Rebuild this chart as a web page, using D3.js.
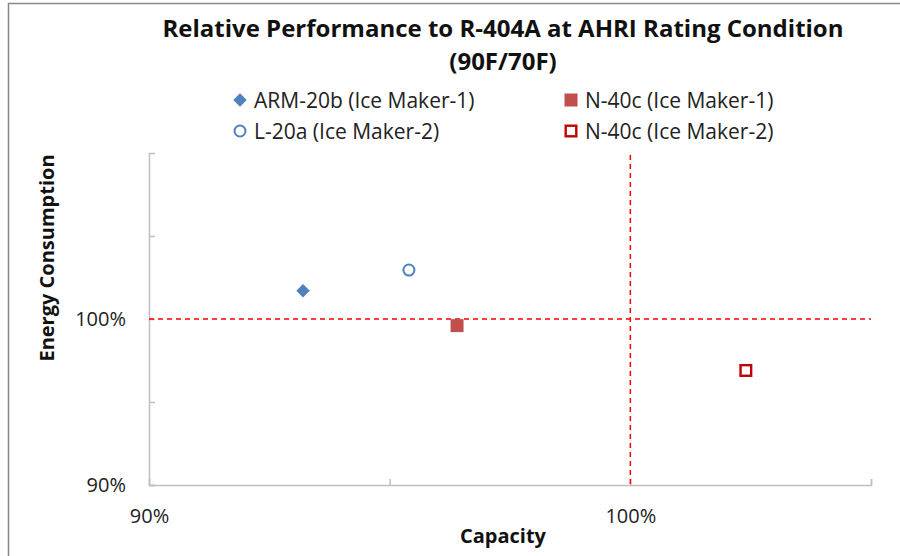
<!DOCTYPE html>
<html>
<head>
<meta charset="utf-8">
<script src="https://cdn.jsdelivr.net/npm/d3@7"></script>
<style>
  body { margin: 0; background: #fff; }
  svg { font-family: "Open Sans", sans-serif; }
</style>
</head>
<body>
<svg id="chart" width="900" height="556"></svg>
<script>
// data
const seriesNames = ["ARM-20b (Ice Maker-1)", "L-20a (Ice Maker-2)", "N-40c (Ice Maker-1)", "N-40c (Ice Maker-2)"];
const capacity = [93.2, 95.4, 96.4, 102.4];   // % of R-404A
const energy = [101.7, 102.95, 99.6, 96.9];   // % of R-404A
const xTicks = [90, 95, 100, 105];
const yTicks = [90, 95, 100, 105, 110];
const labelled = [90, 100];

const svg = d3.select("#chart");

// outer chart border (cut by the window)
svg.append("rect").attr("x", 8.5).attr("y", 3.5).attr("width", 1000).attr("height", 1000)
  .attr("fill", "none").attr("stroke", "#888").attr("stroke-width", 1.5);

const plot = {left: 149, right: 871, top: 153, bottom: 485};

const x = d3.scaleLinear().domain([90, 105]).range([plot.left, plot.right]);
const y = d3.scaleLinear().domain([90, 110]).range([plot.bottom, plot.top]);

// axes
const fmt = d => labelled.includes(d) ? d + "%" : "";

const yAxis = svg.append("g").attr("transform", `translate(${plot.left},0)`)
  .call(d3.axisLeft(y).tickValues(yTicks).tickSize(-6).tickPadding(23).tickFormat(fmt));
const xAxis = svg.append("g").attr("transform", `translate(0,${plot.bottom})`)
  .call(d3.axisBottom(x).tickValues(xTicks).tickSize(-6).tickPadding(24).tickFormat(fmt));

[xAxis, yAxis].forEach(a => {
  a.select(".domain").attr("stroke", "#bfbfbf").attr("stroke-width", 1.5);
  a.selectAll(".tick line").attr("stroke", "#bfbfbf").attr("stroke-width", 1.5);
  a.selectAll(".tick text").attr("fill", "#222").style("font-size", "20px")
    .style("font-family", "'Open Sans', sans-serif");
});
yAxis.select(".tick:last-of-type line").remove();

// reference lines at 100%
svg.append("line")
  .attr("x1", x(90)).attr("x2", x(105)).attr("y1", y(100)).attr("y2", y(100))
  .attr("stroke", "#ff0000").attr("stroke-width", 1.5).attr("stroke-dasharray", "5,4");
svg.append("line")
  .attr("x1", x(100)).attr("x2", x(100)).attr("y1", y(110) + 2).attr("y2", y(90))
  .attr("stroke", "#ff0000").attr("stroke-width", 1.5).attr("stroke-dasharray", "5,4");

// marker drawing
const blue = "#4f81bd", red = "#c0504d", darkRed = "#c00000";
function marker(g, i) {
  if (i === 0) {
    g.append("path").attr("d", d3.symbol(d3.symbolDiamond2, 115)())
      .attr("fill", blue);
  } else if (i === 1) {
    g.append("circle").attr("r", 5.5).attr("fill", "#fff").attr("stroke", blue).attr("stroke-width", 2);
  } else if (i === 2) {
    g.append("rect").attr("x", -6.5).attr("y", -6.5).attr("width", 13).attr("height", 13).attr("fill", red);
  } else {
    g.append("rect").attr("x", -5.3).attr("y", -5.3).attr("width", 10.6).attr("height", 10.6)
      .attr("fill", "#fff").attr("stroke", darkRed).attr("stroke-width", 2.4);
  }
}

seriesNames.forEach((s, i) => {
  const g = svg.append("g").attr("transform", `translate(${x(capacity[i])},${y(energy[i])})`);
  marker(g, i);
});

// title
svg.append("text").attr("x", 503).attr("y", 37).attr("text-anchor", "middle")
  .style("font-size", "24px").style("font-weight", "bold").attr("fill", "#111")
  .text("Relative Performance to R-404A at AHRI Rating Condition");
svg.append("text").attr("x", 503).attr("y", 70).attr("text-anchor", "middle")
  .style("font-size", "24px").style("font-weight", "bold").attr("fill", "#111")
  .text("(90F/70F)");

// legend: two columns, order as in picture
const legendPos = [[240, 100], [240, 131], [571, 100], [571, 131]];
seriesNames.forEach((s, i) => {
  const [lx, ly] = legendPos[i];
  const g = svg.append("g").attr("transform", `translate(${lx},${ly})`);
  marker(g, i);
  g.append("text").attr("x", 14).attr("y", 7.5).style("font-size", "21px").attr("fill", "#222").text(s);
});

// axis titles
svg.append("text").attr("x", 503).attr("y", 543).attr("text-anchor", "middle")
  .style("font-size", "20px").style("font-weight", "bold").attr("fill", "#111").text("Capacity");
svg.append("text").attr("transform", "translate(54,258) rotate(-90)").attr("text-anchor", "middle")
  .style("font-size", "20px").style("font-weight", "bold").attr("fill", "#111").text("Energy Consumption");
</script>
</body>
</html>
